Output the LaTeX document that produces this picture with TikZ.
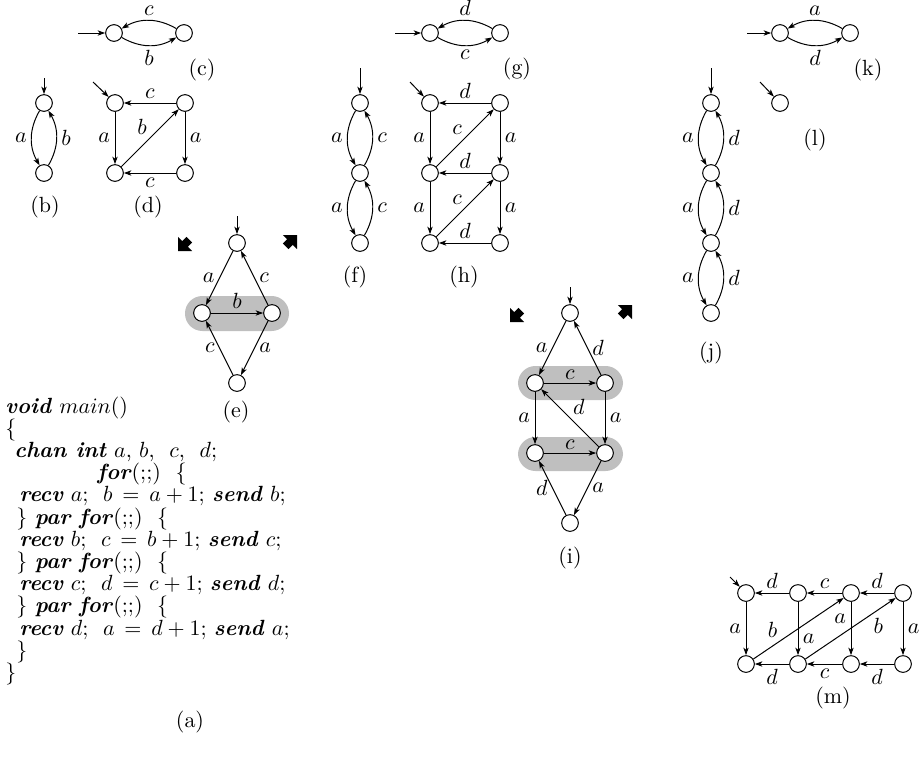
\documentclass[tikz,border=0pt]{standalone}
\usetikzlibrary{arrows.meta}
\newcommand\kwd[1]{\textbf{\textit{#1}}}
\begin{document}
\begin{tikzpicture}[x=0.455pt,y=0.455pt,
  line width=0.45pt,
  st/.style={circle,draw,fill=white,minimum size=7.6pt,inner sep=0pt},
  ar/.style={-{Stealth[length=3.4pt,width=2.4pt,inset=0.9pt]}},
  lb/.style={inner sep=2pt},
  dl/.style={inner sep=1.2pt},
  band/.style={fill=black!25,rounded corners=7.9pt},
  capn/.style={inner sep=0pt},
  bigarr/.style={fill=black},
  code/.style={anchor=base west,inner sep=0pt}]
\useasboundingbox (0,0) rectangle (923,-766);

% ---------- (c)
\node[st] (c1) at (114,-33) {};
\node[st] (c2) at (184,-33) {};
\coordinate (c0) at (78,-33);
\draw[ar] (c0) -- (c1);
\draw[ar] (c2) to[bend right=30] node[above,lb]{$c$} (c1);
\draw[ar] (c1) to[bend right=30] node[below,lb]{$b$} (c2);
\node[capn] (capc) at (202,-70) {(c)};

% ---------- (b)
\node[st] (b1) at (44,-103) {};
\node[st] (b2) at (44,-173) {};
\coordinate (b0) at (44,-78);
\draw[ar] (b0) -- (b1);
\draw[ar] (b1) to[bend right=30] node[left,lb]{$a$} (b2);
\draw[ar] (b2) to[bend right=30] node[right,lb]{$b$} (b1);
\node[capn] (capb) at (45,-207) {(b)};

% ---------- (d)
\node[st] (d1) at (115,-103) {};
\node[st] (d2) at (185,-103) {};
\node[st] (d3) at (115,-173) {};
\node[st] (d4) at (185,-173) {};
\coordinate (d0) at (93,-82);
\draw[ar] (d0) -- (d1);
\draw[ar] (d2) -- node[above,lb]{$c$} (d1);
\draw[ar] (d1) -- node[left,lb]{$a$} (d3);
\draw[ar] (d2) -- node[right,lb]{$a$} (d4);
\draw[ar] (d4) -- node[below,lb]{$c$} (d3);
\draw[ar] (d3) -- node[above left,dl]{$b$} (d2);
\node[capn] (capd) at (148,-207) {(d)};

% ---------- (g)
\node[st] (g1) at (430,-33) {};
\node[st] (g2) at (500,-33) {};
\coordinate (g0) at (395,-33);
\draw[ar] (g0) -- (g1);
\draw[ar] (g2) to[bend right=30] node[above,lb]{$d$} (g1);
\draw[ar] (g1) to[bend right=30] node[below,lb]{$c$} (g2);
\node[capn] (capg) at (517,-69) {(g)};

% ---------- (f)
\node[st] (f1) at (360,-103) {};
\node[st] (f2) at (360,-173) {};
\node[st] (f3) at (360,-243) {};
\coordinate (f0) at (360,-68);
\draw[ar] (f0) -- (f1);
\draw[ar] (f1) to[bend right=30] node[left,lb]{$a$} (f2);
\draw[ar] (f2) to[bend right=30] node[right,lb]{$c$} (f1);
\draw[ar] (f2) to[bend right=30] node[left,lb]{$a$} (f3);
\draw[ar] (f3) to[bend right=30] node[right,lb]{$c$} (f2);
\node[capn] (capf) at (355,-277) {(f)};

% ---------- (h)
\node[st] (h1) at (430,-103) {};
\node[st] (h2) at (500,-103) {};
\node[st] (h3) at (430,-173) {};
\node[st] (h4) at (500,-173) {};
\node[st] (h5) at (430,-243) {};
\node[st] (h6) at (500,-243) {};
\coordinate (h0) at (410,-82);
\draw[ar] (h0) -- (h1);
\draw[ar] (h2) -- node[above,lb]{$d$} (h1);
\draw[ar] (h1) -- node[left,lb]{$a$} (h3);
\draw[ar] (h2) -- node[right,lb]{$a$} (h4);
\draw[ar] (h4) -- node[above,lb]{$d$} (h3);
\draw[ar] (h3) -- node[above left,dl]{$c$} (h2);
\draw[ar] (h3) -- node[left,lb]{$a$} (h5);
\draw[ar] (h4) -- node[right,lb]{$a$} (h6);
\draw[ar] (h6) -- node[above,lb]{$d$} (h5);
\draw[ar] (h5) -- node[above left,dl]{$c$} (h4);
\node[capn] (caph) at (464,-277) {(h)};

% ---------- (k)
\node[st] (k1) at (780,-33) {};
\node[st] (k2) at (850,-33) {};
\coordinate (k0) at (747,-33);
\draw[ar] (k0) -- (k1);
\draw[ar] (k2) to[bend right=30] node[above,lb]{$a$} (k1);
\draw[ar] (k1) to[bend right=30] node[below,lb]{$d$} (k2);
\node[capn] (capk) at (868,-70) {(k)};

% ---------- (l)
\node[st] (l1) at (780,-103) {};
\coordinate (l0) at (760,-82);
\draw[ar] (l0) -- (l1);
\node[capn] (capl) at (815,-140) {(l)};

% ---------- (j)
\node[st] (j1) at (711,-103) {};
\node[st] (j2) at (711,-173) {};
\node[st] (j3) at (711,-243) {};
\node[st] (j4) at (711,-313) {};
\coordinate (j0) at (711,-68);
\draw[ar] (j0) -- (j1);
\draw[ar] (j1) to[bend right=30] node[left,lb]{$a$} (j2);
\draw[ar] (j2) to[bend right=30] node[right,lb]{$d$} (j1);
\draw[ar] (j2) to[bend right=30] node[left,lb]{$a$} (j3);
\draw[ar] (j3) to[bend right=30] node[right,lb]{$d$} (j2);
\draw[ar] (j3) to[bend right=30] node[left,lb]{$a$} (j4);
\draw[ar] (j4) to[bend right=30] node[right,lb]{$d$} (j3);
\node[capn] (capj) at (711,-353) {(j)};

% ---------- (e)
\fill[band] (185,-296) rectangle (289,-331);
\node[st] (e1) at (237,-243) {};
\node[st] (e2) at (202,-313) {};
\node[st] (e3) at (272,-313) {};
\node[st] (e4) at (237,-383) {};
\coordinate (e0) at (237,-216);
\draw[ar] (e0) -- (e1);
\draw[ar] (e1) -- node[left,lb]{$a$} (e2);
\draw[ar] (e3) -- node[right,lb]{$c$} (e1);
\draw[ar] (e2) -- node[above,lb]{$b$} (e3);
\draw[ar] (e3) -- node[right,lb]{$a$} (e4);
\draw[ar] (e4) -- node[left,lb]{$c$} (e2);
\fill[bigarr,shift={(178,-251)},rotate=225] (0,0) -- (-10,10) -- (-10,4) -- (-16,4) -- (-16,-4) -- (-10,-4) -- (-10,-10) -- cycle;
\fill[bigarr,shift={(297,-235)},rotate=45] (0,0) -- (-10,10) -- (-10,4) -- (-16,4) -- (-16,-4) -- (-10,-4) -- (-10,-10) -- cycle;
\node[capn] (cape) at (236,-412) {(e)};

% ---------- (i)
\fill[band] (518,-366) rectangle (623,-400);
\fill[band] (518,-437) rectangle (623,-471);
\node[st] (i1) at (570,-313) {};
\node[st] (i2) at (535,-383) {};
\node[st] (i3) at (605,-383) {};
\node[st] (i4) at (535,-453) {};
\node[st] (i5) at (605,-453) {};
\node[st] (i6) at (570,-523) {};
\coordinate (i0) at (570,-287);
\draw[ar] (i0) -- (i1);
\draw[ar] (i1) -- node[left,lb]{$a$} (i2);
\draw[ar] (i3) -- node[right,lb]{$d$} (i1);
\draw[ar] (i2) -- node[above,dl]{$c$} (i3);
\draw[ar] (i2) -- node[left,lb]{$a$} (i4);
\draw[ar] (i3) -- node[right,lb]{$a$} (i5);
\draw[ar] (i5) -- node[above right,dl]{$d$} (i2);
\draw[ar] (i4) -- node[above,dl]{$c$} (i5);
\draw[ar] (i5) -- node[right,lb]{$a$} (i6);
\draw[ar] (i6) -- node[left,lb]{$d$} (i4);
\fill[bigarr,shift={(510,-322)},rotate=225] (0,0) -- (-10,10) -- (-10,4) -- (-16,4) -- (-16,-4) -- (-10,-4) -- (-10,-10) -- cycle;
\fill[bigarr,shift={(632,-305)},rotate=45] (0,0) -- (-10,10) -- (-10,4) -- (-16,4) -- (-16,-4) -- (-10,-4) -- (-10,-10) -- cycle;
\node[capn] (capi) at (570,-558) {(i)};

% ---------- (m)
\node[st] (m1) at (746,-593) {};
\node[st] (m2) at (798,-593) {};
\node[st] (m3) at (851,-593) {};
\node[st] (m4) at (903,-593) {};
\node[st] (m5) at (746,-664) {};
\node[st] (m6) at (798,-664) {};
\node[st] (m7) at (851,-664) {};
\node[st] (m8) at (903,-664) {};
\coordinate (m0) at (730,-577);
\draw[ar] (m0) -- (m1);
\draw[ar] (m2) -- node[above,lb]{$d$} (m1);
\draw[ar] (m3) -- node[above,lb]{$c$} (m2);
\draw[ar] (m4) -- node[above,lb]{$d$} (m3);
\draw[ar] (m1) -- node[left,lb]{$a$} (m5);
\draw[ar] (m2) -- node[pos=0.69,right,lb]{$a$} (m6);
\draw[ar] (m3) -- node[pos=0.31,left,lb]{$a$} (m7);
\draw[ar] (m4) -- node[right,lb]{$a$} (m8);
\draw[ar] (m5) -- node[pos=0.3,above left,dl]{$b$} (m3);
\draw[ar] (m6) -- node[pos=0.72,below right,dl]{$b$} (m4);
\draw[ar] (m6) -- node[below,lb]{$d$} (m5);
\draw[ar] (m7) -- node[below,lb]{$c$} (m6);
\draw[ar] (m8) -- node[below,lb]{$d$} (m7);
\node[capn] (capm) at (833,-698) {(m)};

% ---------- (a) code
\node[code] (a0) at (5,-413) {\kwd{void} $main()$};
\node[code] (a1) at (5,-435.2) {\{};
\node[code] (a2) at (14,-457.4) {\kwd{chan int} $a$, $b$,\ \ $c$,\ \ $d$;};
\node[code] (a3) at (97,-479.6) {\kwd{for}(;;)\ \ \{};
\node[code] (a4) at (19,-501.8) {\kwd{recv} $a$;\ \ $b\,=\,a + 1$; \kwd{send} $b$;};
\node[code] (a5) at (16,-524) {\} \kwd{par} \kwd{for}(;;)\ \ \{};
\node[code] (a6) at (19,-546.2) {\kwd{recv} $b$;\ \ $c\,=\,b + 1$; \kwd{send} $c$;};
\node[code] (a7) at (16,-568.4) {\} \kwd{par} \kwd{for}(;;)\ \ \{};
\node[code] (a8) at (19,-590.6) {\kwd{recv} $c$;\ \ $d\,=\,c + 1$; \kwd{send} $d$;};
\node[code] (a9) at (16,-612.8) {\} \kwd{par} \kwd{for}(;;)\ \ \{};
\node[code] (a10) at (19,-635) {\kwd{recv} $d$;\ \ $a\,=\,d + 1$; \kwd{send} $a$;};
\node[code] (a11) at (16,-657.2) {\}};
\node[code] (a12) at (5,-679.4) {\}};
\node[capn] (capa) at (190,-722) {(a)};
\end{tikzpicture}
\end{document}
